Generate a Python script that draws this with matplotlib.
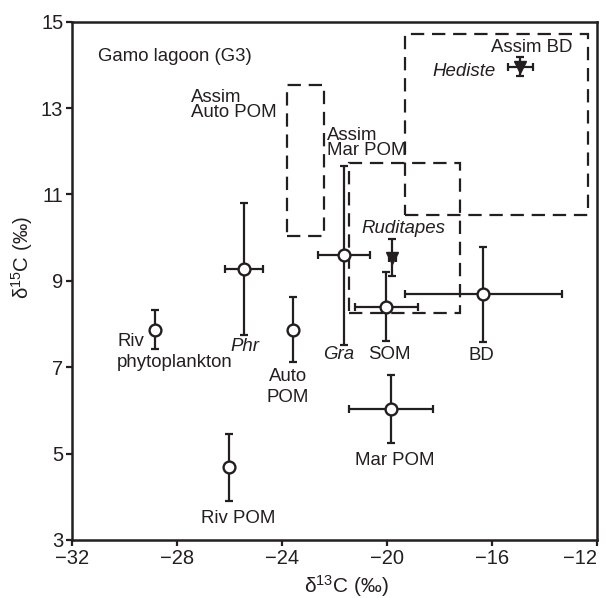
import matplotlib
matplotlib.use("Agg")
import matplotlib.pyplot as plt
from matplotlib.patches import Rectangle

plt.rcParams['font.family'] = ['Liberation Sans', 'DejaVu Sans']
plt.rcParams['mathtext.fontset'] = 'custom'
plt.rcParams['mathtext.rm'] = 'Liberation Sans'
plt.rcParams['mathtext.it'] = 'Liberation Sans:italic'

INK = '#231f20'

# Sources (open circles)
src_names = ['Riv phytoplankton', 'Phr', 'Auto POM', 'Gra', 'SOM', 'BD', 'Mar POM', 'Riv POM']
src_x = [-28.86, -25.45, -23.58, -21.64, -20.02, -16.32, -19.83, -26.03]
src_y = [7.87, 9.28, 7.87, 9.59, 8.40, 8.69, 6.03, 4.68]
src_xerr = [0.0, 0.72, 0.0, 0.98, 1.2, 3.0, 1.6, 0.0]
src_yerr = [0.45, 1.53, 0.76, 2.07, 0.80, 1.10, 0.79, 0.78]

# Consumers (filled triangles)
con_names = ['Hediste', 'Ruditapes']
con_x = [-14.91, -19.79]
con_y = [13.96, 9.54]
con_xerr = [0.49, 0.12]
con_yerr = [0.22, 0.42]

# Assimilation boxes: (x0, x1, y0, y1)
box_names = ['Assim Auto POM', 'Assim Mar POM', 'Assim BD']
box_x0 = [-23.80, -21.46, -19.32]
box_x1 = [-22.41, -17.20, -12.33]
box_y0 = [10.03, 8.26, 10.53]
box_y1 = [13.54, 11.74, 14.72]

x_ticks = [-32, -28, -24, -20, -16, -12]
y_ticks = [3, 5, 7, 9, 11, 13, 15]

fig = plt.figure(figsize=(6.06, 5.98), dpi=100)
ax = fig.add_axes([0.1193, 0.097, 0.8654, 0.8667])

for x0, x1, y0, y1 in zip(box_x0, box_x1, box_y0, box_y1):
    ax.add_patch(Rectangle((x0, y0), x1 - x0, y1 - y0, fill=False,
                           edgecolor=INK, lw=1.6, linestyle=(0, (6, 3.5)), zorder=1))

for x, y, xe, ye in zip(src_x, src_y, src_xerr, src_yerr):
    ax.errorbar([x], [y], xerr=[xe] if xe > 0 else None, yerr=[ye],
                fmt='none', ecolor=INK, elinewidth=1.6, capsize=2.6, capthick=1.6, zorder=2)
ax.plot(src_x, src_y, 'o', ms=8.5, mfc='white', mec=INK, mew=1.7, zorder=3, ls='none')

for x, y, xe, ye in zip(con_x, con_y, con_xerr, con_yerr):
    ax.errorbar([x], [y], xerr=[xe], yerr=[ye],
                fmt='none', ecolor=INK, elinewidth=1.6, capsize=2.6, capthick=1.6, zorder=2)
ax.plot(con_x, con_y, 'v', ms=8.5, mfc=INK, mec=INK, zorder=3, ls='none')

fs = 13.4
ax.text(-31.02, 14.19, 'Gamo lagoon (G3)', fontsize=fs, ha='left', va='center', color=INK)
ax.text(-27.48, 13.08, 'Assim\nAuto POM', fontsize=fs, ha='left', va='center', color=INK, linespacing=0.85)
ax.text(-22.27, 12.19, 'Assim\nMar POM', fontsize=fs, ha='left', va='center', color=INK, linespacing=0.85)
ax.text(-14.47, 14.40, 'Assim BD', fontsize=fs, ha='center', va='center', color=INK)
ax.text(-15.84, 13.85, 'Hediste', fontsize=fs, ha='right', va='center', color=INK, style='italic')
ax.text(-19.38, 10.21, 'Ruditapes', fontsize=fs, ha='center', va='center', color=INK, style='italic')
ax.text(-30.29, 7.355, 'Riv\nphytoplankton', fontsize=fs, ha='left', va='center', color=INK, linespacing=1.3)
ax.text(-25.42, 7.47, 'Phr', fontsize=fs, ha='center', va='center', color=INK, style='italic')
ax.text(-23.77, 6.545, 'Auto\nPOM', fontsize=fs, ha='center', va='center', color=INK, linespacing=1.3)
ax.text(-21.84, 7.30, 'Gra', fontsize=fs, ha='center', va='center', color=INK, style='italic')
ax.text(-19.90, 7.30, 'SOM', fontsize=fs, ha='center', va='center', color=INK)
ax.text(-16.39, 7.27, 'BD', fontsize=fs, ha='center', va='center', color=INK)
ax.text(-19.71, 4.85, 'Mar POM', fontsize=fs, ha='center', va='center', color=INK)
ax.text(-25.66, 3.49, 'Riv POM', fontsize=fs, ha='center', va='center', color=INK)

ax.set_xlim(-32, -12)
ax.set_ylim(3, 15)
ax.set_xticks(x_ticks)
ax.set_yticks(y_ticks)
ax.set_xticklabels(['\u2212' + str(abs(t)) for t in x_ticks])
ax.set_yticklabels([str(t) for t in y_ticks])
ax.tick_params(direction='out', length=4.5, width=1.6, colors=INK, labelsize=14.5, pad=2)
ax.get_xticklabels()[-1].set_horizontalalignment('right')
for s in ax.spines.values():
    s.set_linewidth(1.8)
    s.set_color(INK)

ax.set_xlabel('δ$^{13}$C (‰)', fontsize=15, color=INK, va='center')
ax.set_ylabel('δ$^{15}$C (‰)', fontsize=14.7, color=INK)
ax.xaxis.set_label_coords(0.522, -0.089)
ax.yaxis.set_label_coords(-0.072, 0.546)

fig.savefig('out.png', dpi=100)
